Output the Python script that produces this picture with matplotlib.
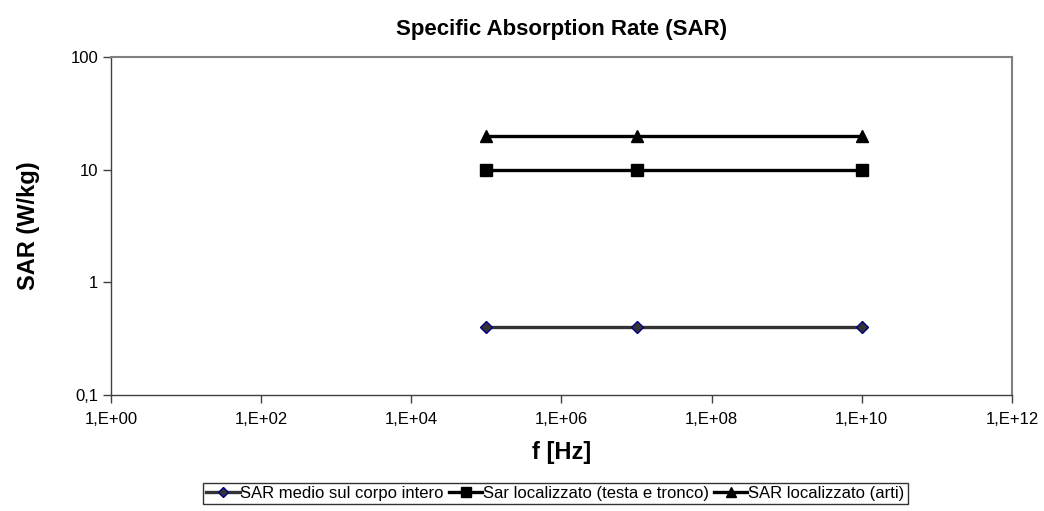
import matplotlib
matplotlib.use("Agg")
import matplotlib.pyplot as plt
from matplotlib.ticker import FixedLocator, FixedFormatter, NullLocator

plt.rcParams['font.family'] = ['Liberation Sans', 'DejaVu Sans']

# Frequency points (Hz) and SAR limits (W/kg)
freq = [1e5, 1e7, 1e10]
sar_whole_body = [0.4, 0.4, 0.4]
sar_head_trunk = [10, 10, 10]
sar_limbs = [20, 20, 20]

labels = ["SAR medio sul corpo intero",
          "Sar localizzato (testa e tronco)",
          "SAR localizzato (arti)"]

x_ticks = [1e0, 1e2, 1e4, 1e6, 1e8, 1e10, 1e12]
x_tick_labels = ["1,E+00", "1,E+02", "1,E+04", "1,E+06", "1,E+08", "1,E+10", "1,E+12"]
y_ticks = [0.1, 1, 10, 100]
y_tick_labels = ["0,1", "1", "10", "100"]

fig = plt.figure(figsize=(10.44, 5.11), dpi=100)
ax = fig.add_axes([0.1063, 0.227, 0.8630, 0.6615])

ax.plot(freq, sar_whole_body, color="#333333", lw=2.4, marker="D", ms=6,
        markerfacecolor="#333333", markeredgecolor="#000080", markeredgewidth=1.0,
        label=labels[0])
ax.plot(freq, sar_head_trunk, color="black", lw=2.4, marker="s", ms=8,
        label=labels[1])
ax.plot(freq, sar_limbs, color="black", lw=2.4, marker="^", ms=9,
        label=labels[2])

ax.set_xscale("log")
ax.set_yscale("log")
ax.set_xlim(1e0, 1e12)
ax.set_ylim(0.1, 100)

ax.xaxis.set_major_locator(FixedLocator(x_ticks))
ax.xaxis.set_major_formatter(FixedFormatter(x_tick_labels))
ax.xaxis.set_minor_locator(NullLocator())
ax.yaxis.set_major_locator(FixedLocator(y_ticks))
ax.yaxis.set_major_formatter(FixedFormatter(y_tick_labels))
ax.yaxis.set_minor_locator(NullLocator())

ax.tick_params(axis="both", direction="out", length=6, width=1, color="#404040",
               labelsize=12)
ax.tick_params(axis="x", pad=6)
ax.tick_params(axis="y", pad=3)

for side in ("top", "right"):
    ax.spines[side].set_color("#808080")
    ax.spines[side].set_linewidth(1.5)
for side in ("left", "bottom"):
    ax.spines[side].set_color("#404040")
    ax.spines[side].set_linewidth(1.0)

ax.set_title("Specific Absorption Rate (SAR)", fontsize=16, fontweight="bold", pad=16)
ax.set_xlabel("f [Hz]", fontsize=17, fontweight="bold", labelpad=10)
ax.set_ylabel("SAR (W/kg)", fontsize=17, fontweight="bold", labelpad=22)

leg = fig.legend(loc="center", bbox_to_anchor=(0.532, 0.034), ncol=3, fontsize=12,
                 frameon=True, fancybox=False, edgecolor="black",
                 handlelength=2.0, handletextpad=0.05, columnspacing=0.3,
                 borderpad=0.2, borderaxespad=0, markerscale=0.85)
leg.get_frame().set_linewidth(1.0)

fig.savefig("out.png", dpi=100, facecolor="white")
